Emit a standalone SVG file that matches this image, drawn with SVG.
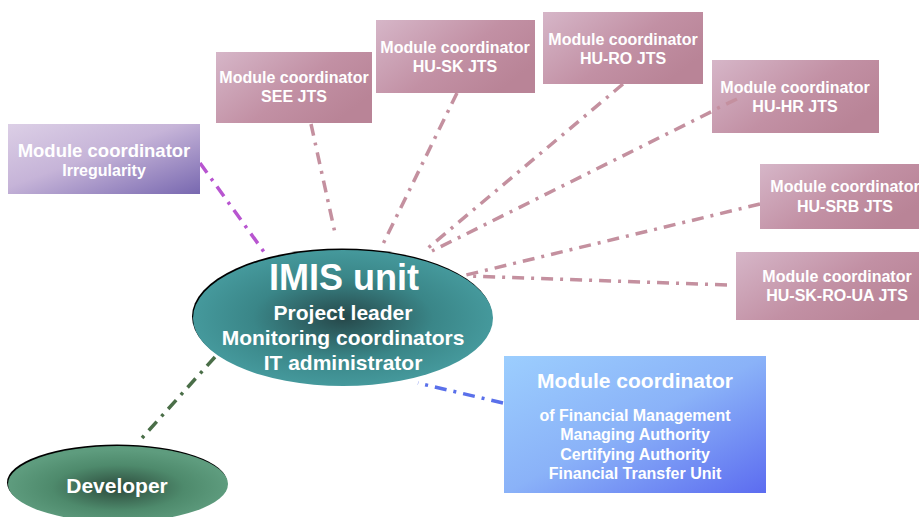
<svg xmlns="http://www.w3.org/2000/svg" width="919" height="517" viewBox="0 0 919 517">
<defs>
<linearGradient id="gPink" x1="0" y1="0" x2="1" y2="0.6">
<stop offset="0" stop-color="#d6b6c8"/>
<stop offset="0.6" stop-color="#c290a4"/>
<stop offset="1" stop-color="#b98497"/>
</linearGradient>
<linearGradient id="gPurple" x1="0" y1="0" x2="1" y2="1">
<stop offset="0" stop-color="#dccfe6"/>
<stop offset="0.45" stop-color="#c6b4d8"/>
<stop offset="1" stop-color="#7868b0"/>
</linearGradient>
<linearGradient id="gBlue" x1="0" y1="0" x2="1" y2="1">
<stop offset="0" stop-color="#9ccefe"/>
<stop offset="0.5" stop-color="#8ab2f8"/>
<stop offset="1" stop-color="#5c6cf0"/>
</linearGradient>
<radialGradient id="gTeal" cx="0.5" cy="0.5" r="0.5">
<stop offset="0" stop-color="#26484a"/>
<stop offset="0.6" stop-color="#3a8688"/>
<stop offset="1" stop-color="#45999c"/>
</radialGradient>
<radialGradient id="gGreen" cx="0.5" cy="0.55" r="0.5">
<stop offset="0" stop-color="#2c4a3c"/>
<stop offset="0.6" stop-color="#4e8a6c"/>
<stop offset="1" stop-color="#5e9c7e"/>
</radialGradient>
</defs>
<style>
.t{font-family:"Liberation Sans",Arial,sans-serif;font-weight:bold;fill:#ffffff;text-anchor:middle}
.s{font-size:16px}
.c{fill:none;stroke-width:3.5;stroke-dasharray:12 7 3 7}
.m{stroke:#c4909f}
</style>
<g id="connectors">
<line class="c" x1="200" y1="163" x2="264" y2="252" stroke="#b855d0"/>
<line class="c m" x1="311" y1="124" x2="335" y2="233"/>
<line class="c m" x1="457" y1="93" x2="383" y2="244"/>
<line class="c m" x1="623" y1="84" x2="428" y2="248"/>
<line class="c m" x1="737" y1="99" x2="432" y2="251"/>
<line class="c m" x1="760" y1="204" x2="466" y2="275"/>
<line class="c m" x1="727" y1="285" x2="468" y2="276"/>
<line class="c" x1="503" y1="403" x2="418" y2="383" stroke="#5a70ea"/>
<line class="c" x1="215" y1="357" x2="142" y2="438" stroke="#4a6e48"/>
</g>
<g id="irregularity">
<rect x="8" y="124" width="192" height="70" fill="url(#gPurple)"/>
<text class="t" x="104" y="157" font-size="18.5">Module coordinator</text>
<text class="t" x="104" y="176" font-size="16">Irregularity</text>
</g>
<g id="see">
<rect x="216" y="52" width="156" height="71" fill="url(#gPink)"/>
<text class="t s" x="294" y="83">Module coordinator</text>
<text class="t s" x="294" y="102">SEE JTS</text>
</g>
<g id="husk">
<rect x="376" y="20" width="159" height="73" fill="url(#gPink)"/>
<text class="t s" x="455" y="53">Module coordinator</text>
<text class="t s" x="455" y="72">HU-SK JTS</text>
</g>
<g id="huro">
<rect x="543" y="12" width="160" height="72" fill="url(#gPink)"/>
<text class="t s" x="623" y="45">Module coordinator</text>
<text class="t s" x="623" y="64">HU-RO JTS</text>
</g>
<g id="huhr">
<rect x="712" y="60" width="167" height="73" fill="url(#gPink)"/>
<text class="t s" x="795" y="93">Module coordinator</text>
<text class="t s" x="795" y="112">HU-HR JTS</text>
</g>
<line class="c m" x1="737" y1="99" x2="716" y2="109"/>
<g id="husrb">
<rect x="760" y="164" width="160" height="65" fill="url(#gPink)"/>
<text class="t s" x="845" y="192">Module coordinator</text>
<text class="t s" x="845" y="212">HU-SRB JTS</text>
</g>
<g id="huskroua">
<rect x="736" y="252" width="184" height="68" fill="url(#gPink)"/>
<text class="t s" x="837" y="282">Module coordinator</text>
<text class="t s" x="837" y="301">HU-SK-RO-UA JTS</text>
</g>
<g id="financial">
<rect x="504" y="356" width="262" height="137" fill="url(#gBlue)"/>
<text class="t" x="635" y="388" font-size="21">Module coordinator</text>
<text class="t s" x="635" y="421">of Financial Management</text>
<text class="t s" x="635" y="440">Managing Authority</text>
<text class="t s" x="635" y="460">Certifying Authority</text>
<text class="t s" x="635" y="479">Financial Transfer Unit</text>
</g>
<g id="imis">
<ellipse cx="342" cy="316.5" rx="150" ry="68" fill="#000000"/>
<ellipse cx="343" cy="318" rx="150" ry="68" fill="url(#gTeal)"/>
<text class="t" x="344" y="290" font-size="36">IMIS unit</text>
<text class="t" x="343" y="320" font-size="21">Project leader</text>
<text class="t" x="343" y="345" font-size="21">Monitoring coordinators</text>
<text class="t" x="343" y="370" font-size="21">IT administrator</text>
</g>
<g id="developer">
<ellipse cx="117" cy="482.5" rx="110" ry="38" fill="#000000"/>
<ellipse cx="118" cy="484" rx="110" ry="38" fill="url(#gGreen)"/>
<text class="t" x="117" y="493" font-size="21">Developer</text>
</g>
</svg>
